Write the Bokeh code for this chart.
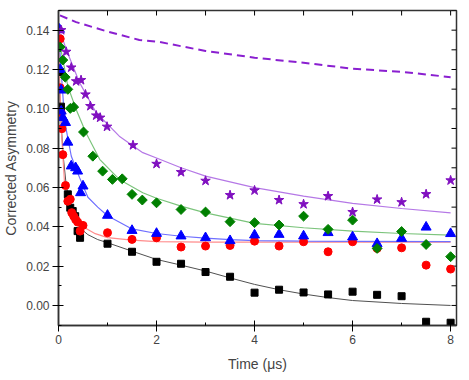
import math
from bokeh.plotting import figure
from bokeh.models import Range1d, FixedTicker, NumeralTickFormatter
from bokeh.embed import file_html
from bokeh.resources import INLINE

# ---- data ----
late_t = [2.0, 2.5, 3.0, 3.5, 4.0, 4.5, 5.0, 5.5, 6.0, 6.5, 7.0, 7.5, 8.0]

black_t = [0.03, 0.05, 0.19, 0.24, 0.29, 0.34, 0.39, 0.44, 1.0, 1.5] + late_t
black_y = [0.1187, 0.1011, 0.0565, 0.0497, 0.0480, 0.0454, 0.0378, 0.0344, 0.0314, 0.0273,
           0.0222, 0.0212, 0.0170, 0.0146, 0.0065, 0.0080, 0.0066, 0.0056, 0.0070, 0.0054, 0.0047, -0.0083, -0.0088]

red_t = [0.035, 0.035, 0.055, 0.07, 0.088, 0.143, 0.19, 0.24, 0.27, 0.31, 0.35, 0.39, 0.50, 0.44, 1.0, 1.5] + late_t
red_y = [0.1356, 0.1107, 0.0980, 0.0899, 0.0767, 0.0610, 0.0530, 0.0540, 0.0472, 0.0454, 0.0437, 0.0424, 0.0407, 0.0378, 0.0370, 0.0336,
         0.0344, 0.0297, 0.0302, 0.0305, 0.0327, 0.0302, 0.0324, 0.0273, 0.0324, 0.0290, 0.0293, 0.0205, 0.0185]

blue_t = [0.02, 0.035, 0.055, 0.055, 0.088, 0.143, 0.19, 0.26, 0.35, 0.39, 0.50, 0.45, 1.0, 1.5] + late_t
blue_y = [0.1404, 0.1200, 0.1095, 0.0988, 0.0955, 0.0930, 0.0830, 0.0709, 0.0700, 0.0683, 0.0607, 0.0573, 0.0458, 0.0381,
          0.0366, 0.0353, 0.0344, 0.0329, 0.0358, 0.0361, 0.0353, 0.0370, 0.0348, 0.0314, 0.0341, 0.0398, 0.0365]

green_t = [0.035, 0.088, 0.137, 0.19, 0.24, 0.31, 0.51, 0.70, 0.90, 1.10, 1.30, 1.50, 1.71] + late_t
green_y = [0.1314, 0.1248, 0.1161, 0.1099, 0.1002, 0.1009, 0.0882, 0.0759, 0.0683, 0.0641, 0.0644, 0.0565, 0.0536,
           0.0522, 0.0488, 0.0475, 0.0426, 0.0421, 0.0409, 0.0454, 0.0387, 0.0434, 0.0290, 0.0376, 0.0310, 0.0248]

purple_t = [0.055, 0.157, 0.26, 0.36, 0.46, 0.55, 0.65, 0.77, 0.85, 0.99, 1.52] + late_t
purple_y = [0.1400, 0.1290, 0.1210, 0.1140, 0.1146, 0.1073, 0.1014, 0.0966, 0.0955, 0.0909, 0.0815,
            0.0720, 0.0678, 0.0634, 0.0561, 0.0585, 0.0536, 0.0515, 0.0556, 0.0475, 0.0539, 0.0525, 0.0566, 0.0636]

# fitted curves
black_fit_t = [0, 0.03, 0.06, 0.1, 0.15, 0.19, 0.25, 0.33, 0.43, 0.6, 0.8, 1.0, 1.5, 2.0, 2.5, 3.0, 3.5, 4.0, 4.5, 5.0, 5.5, 6.0, 7.0, 8.0]
black_fit_y = [0.122, 0.105, 0.090, 0.075, 0.063, 0.0565, 0.050, 0.0445, 0.0395, 0.036, 0.0335, 0.0319, 0.0276, 0.0234,
               0.0205, 0.0175, 0.0140, 0.0107, 0.0080, 0.0058, 0.0040, 0.0025, 0.0010, 0.0000]
red_fit_t = [0, 0.03, 0.055, 0.088, 0.12, 0.16, 0.22, 0.33, 0.5, 0.75, 1.0, 1.5, 2.0, 3.0, 8.0]
red_fit_y = [0.138, 0.110, 0.090, 0.0768, 0.0635, 0.058, 0.053, 0.0454, 0.0400, 0.0365, 0.0345, 0.0332, 0.0325, 0.0322, 0.0322]
blue_fit_t = [0, 0.05, 0.1, 0.157, 0.26, 0.35, 0.43, 0.6, 0.8, 1.0, 1.5, 2.0, 2.5, 3.0, 3.5, 4.0, 5.0, 6.0, 8.0]
blue_fit_y = [0.142, 0.121, 0.103, 0.0895, 0.076, 0.070, 0.065, 0.055, 0.050, 0.0456, 0.0389, 0.0366, 0.0352, 0.0342,
              0.0335, 0.0330, 0.0327, 0.0326, 0.0325]
green_fit_t = [0, 0.09, 0.19, 0.36, 0.56, 0.84, 1.24, 1.72, 2.0, 2.5, 3.0, 4.0, 5.0, 6.0, 7.0, 8.0]
green_fit_y = [0.136, 0.125, 0.1115, 0.0997, 0.0878, 0.0743, 0.0641, 0.0573, 0.0545, 0.0505, 0.0471, 0.0417, 0.0395,
               0.0378, 0.0366, 0.0358]
purple_fit_t = [0, 0.16, 0.43, 0.77, 1.24, 1.72, 2.0, 2.5, 3.0, 4.0, 5.0, 6.0, 7.0, 8.0]
purple_fit_y = [0.142, 0.130, 0.1133, 0.098, 0.0861, 0.0777, 0.0750, 0.070, 0.0658, 0.0599, 0.0556, 0.0519, 0.0493, 0.0471]
dash_t = [0.03, 0.36, 0.97, 1.65, 2.06, 3.0, 4.0, 5.0, 6.0, 7.0, 8.0]
dash_y = [0.1475, 0.1441, 0.1395, 0.1350, 0.1340, 0.1294, 0.1260, 0.1234, 0.1204, 0.1188, 0.1161]

x_ticks = [0, 2, 4, 6, 8]
x_minor = [1, 3, 5, 7]
y_ticks = [0.0, 0.02, 0.04, 0.06, 0.08, 0.10, 0.12, 0.14]
y_minor = [-0.01, 0.01, 0.03, 0.05, 0.07, 0.09, 0.11, 0.13, 0.15]

X_MIN, X_MAX = 0.0, 8.12
Y_MIN, Y_MAX = -0.0102, 0.150
FONT = "Liberation Sans"

p = figure(frame_width=398, frame_height=315, output_backend="svg", toolbar_location=None,
           x_range=Range1d(X_MIN, X_MAX), y_range=Range1d(Y_MIN, Y_MAX),
           min_border_left=4, min_border_right=4, min_border_top=10, min_border_bottom=0)
p.grid.visible = False
p.outline_line_color = "#333333"
p.outline_line_width = 1.5
p.background_fill_color = "white"
p.border_fill_color = "white"

# main axes
xa = p.xaxis[0]
xa.ticker = FixedTicker(ticks=x_ticks, minor_ticks=x_minor)
xa.axis_label = "Time (\u03bcs)"
ya = p.yaxis[0]
ya.ticker = FixedTicker(ticks=y_ticks, minor_ticks=y_minor)
ya.formatter = NumeralTickFormatter(format="0.00")
ya.axis_label = "Corrected Asymmetry"
for ax in (xa, ya):
    ax.axis_label_text_font = FONT
    ax.axis_label_text_font_size = "14px"
    ax.axis_label_text_font_style = "normal"
    ax.major_label_text_font = FONT
    ax.major_label_text_font_size = "12px"
    ax.axis_line_color = "#333333"
    ax.axis_line_width = 1.5
    ax.major_tick_line_color = "black"
    ax.minor_tick_line_color = "black"
    ax.major_tick_in = 5
    ax.major_tick_out = 6
    ax.minor_tick_in = 3
    ax.minor_tick_out = 0
    ax.major_label_standoff = 3
    ax.axis_label_standoff = 4
xa.major_label_standoff = 3
xa.axis_label_standoff = 9

# mirrored inward ticks on the top and right frame edges
top_ticks = x_ticks + x_minor
right_ticks = y_ticks + y_minor
p.ray(x=top_ticks, y=[Y_MAX] * len(top_ticks), length=5, length_units="screen",
      angle=-math.pi / 2, line_color="black", line_width=1)
p.ray(x=[X_MAX] * len(right_ticks), y=right_ticks, length=5, length_units="screen",
      angle=math.pi, line_color="black", line_width=1)

# fitted lines
p.line(dash_t, dash_y, line_color="#8a1fd0", line_width=2, line_dash="8 5")
p.line(black_fit_t, black_fit_y, line_color="#505050", line_width=1)
p.line(red_fit_t, red_fit_y, line_color="#ff8c8c", line_width=1.2)
p.line(blue_fit_t, blue_fit_y, line_color="#6f6fff", line_width=1.2)
p.line(green_fit_t, green_fit_y, line_color="#7cc47c", line_width=1.2)
p.line(purple_fit_t, purple_fit_y, line_color="#b578e6", line_width=1.2)

# data markers
p.scatter(black_t, black_y, marker="square", size=7, color="black")
p.scatter(red_t, red_y, marker="circle", size=8, color="#ff0000")
p.scatter(blue_t, blue_y, marker="triangle", size=10, color="#0000ff")
p.scatter(green_t, green_y, marker="square", size=7, angle=math.pi / 4, color="#008000")
p.scatter(purple_t, purple_y, marker="star", size=10, color="#8010c0")

open("out.html", "w").write(file_html(p, INLINE))
